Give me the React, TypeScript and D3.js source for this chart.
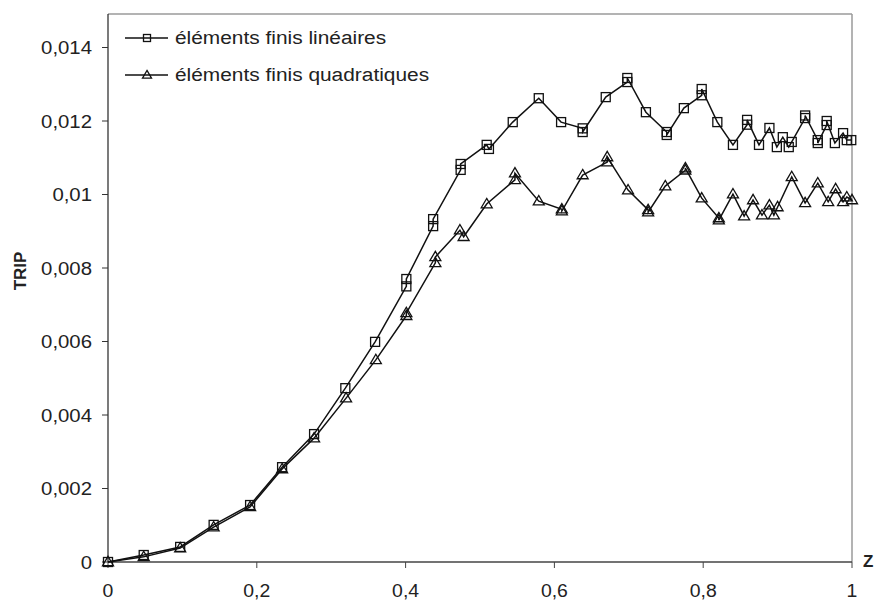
import React from "react";
import * as d3 from "d3";

const zLin = [0, 0.048, 0.097, 0.142, 0.191, 0.234, 0.277, 0.319, 0.359, 0.401, 0.401, 0.437, 0.437, 0.474, 0.474, 0.509, 0.512, 0.544, 0.579, 0.609, 0.638, 0.638, 0.669, 0.698, 0.698, 0.723, 0.751, 0.751, 0.774, 0.798, 0.798, 0.819, 0.84, 0.859, 0.859, 0.875, 0.889, 0.899, 0.907, 0.915, 0.919, 0.937, 0.937, 0.954, 0.954, 0.966, 0.966, 0.977, 0.988, 0.993, 0.999];
const tripLin = [0, 0.00019, 0.00041, 0.00101, 0.00155, 0.00258, 0.00348, 0.00473, 0.00599, 0.0075, 0.0077, 0.00914, 0.00933, 0.01067, 0.01083, 0.01135, 0.01124, 0.01197, 0.01262, 0.01197, 0.0118, 0.0117, 0.01265, 0.01306, 0.01317, 0.01224, 0.0117, 0.01162, 0.01235, 0.0127, 0.01287, 0.01197, 0.01135, 0.0119, 0.01203, 0.01135, 0.01181, 0.01129, 0.01156, 0.01129, 0.01143, 0.01208, 0.01215, 0.01148, 0.0114, 0.01189, 0.012, 0.0114, 0.01167, 0.01148, 0.01148];

const zQuad = [0, 0.048, 0.097, 0.142, 0.191, 0.234, 0.277, 0.32, 0.36, 0.401, 0.401, 0.44, 0.44, 0.473, 0.478, 0.509, 0.547, 0.547, 0.579, 0.61, 0.61, 0.638, 0.671, 0.671, 0.699, 0.726, 0.726, 0.749, 0.776, 0.776, 0.798, 0.821, 0.821, 0.84, 0.855, 0.867, 0.879, 0.889, 0.895, 0.9, 0.919, 0.937, 0.954, 0.968, 0.978, 0.988, 0.993, 1.0];
const tripQuad = [0, 0.00014, 0.00038, 0.00095, 0.0015, 0.00253, 0.00337, 0.00446, 0.0055, 0.0067, 0.00678, 0.00814, 0.0083, 0.00903, 0.00885, 0.00974, 0.0104, 0.01058, 0.00982, 0.0096, 0.00955, 0.01053, 0.01088, 0.01102, 0.01012, 0.00958, 0.00952, 0.01023, 0.01066, 0.01072, 0.0099, 0.00936, 0.0093, 0.01001, 0.00941, 0.00985, 0.00944, 0.00971, 0.00944, 0.00966, 0.01048, 0.00977, 0.01031, 0.0098, 0.01015, 0.0098, 0.00993, 0.00985];

const xTicks = [0, 0.2, 0.4, 0.6, 0.8, 1];
const xTickLabels = ["0", "0,2", "0,4", "0,6", "0,8", "1"];
const yTicks = [0, 0.002, 0.004, 0.006, 0.008, 0.01, 0.012, 0.014];
const yTickLabels = ["0", "0,002", "0,004", "0,006", "0,008", "0,01", "0,012", "0,014"];
const seriesNames = ["éléments finis linéaires", "éléments finis quadratiques"];

const W = 874, H = 601;
const L = 108, R = 852, T = 14, B = 562;
const FONT = "'Liberation Sans', Arial, sans-serif";
const SX = 1.1;

export default function App() {
  const x = d3.scaleLinear().domain([0, 1]).range([L, R]);
  const y = d3.scaleLinear().domain([0, 0.014]).range([B, 47.5]);
  const line = d3.line<[number, number]>().x(d => x(d[0])).y(d => y(d[1]));
  const lin: [number, number][] = zLin.map((z, i) => [z, tripLin[i]]);
  const quad: [number, number][] = zQuad.map((z, i) => [z, tripQuad[i]]);
  const ink = "#111";

  const square = (cx: number, cy: number, s: number, key: string) => (
    <rect key={key} x={cx - s / 2} y={cy - s / 2} width={s} height={s} fill="none" stroke={ink} strokeWidth={1.3} />
  );
  const tri = (cx: number, cy: number, s: number, key: string) => {
    const h = s * 0.85;
    return (
      <path key={key} d={`M${cx},${cy - h * 0.6}L${cx + s / 2},${cy + h * 0.4}L${cx - s / 2},${cy + h * 0.4}Z`} fill="none" stroke={ink} strokeWidth={1.3} />
    );
  };

  return (
    <div style={{ position: "absolute", left: 0, top: 0 }}>
      <svg width={W} height={H} style={{ display: "block", background: "#fff" }}>
        <line x1={L} x2={R} y1={T} y2={T} stroke="#9a9a9a" strokeWidth={1.5} />
        <line x1={R} x2={R} y1={T} y2={B} stroke="#9a9a9a" strokeWidth={1.5} />
        <line x1={L} x2={L} y1={T} y2={B} stroke="#222" strokeWidth={1.2} />
        <line x1={L} x2={R} y1={B} y2={B} stroke="#444" strokeWidth={1.5} />

        {yTicks.map((v, i) => (
          <g key={"yt" + i}>
            <line x1={L - 6} x2={L} y1={y(v)} y2={y(v)} stroke="#333" strokeWidth={1} />
            <text transform={`translate(${L - 16},${y(v) + 6.5}) scale(${SX},1)`} textAnchor="end" fontFamily={FONT} fontSize={18.5} fill="#222">{yTickLabels[i]}</text>
          </g>
        ))}
        {xTicks.map((v, i) => (
          <g key={"xt" + i}>
            <line x1={x(v)} x2={x(v)} y1={B} y2={B + 6} stroke="#444" strokeWidth={1} />
            <text transform={`translate(${x(v)},${597}) scale(1.05,1)`} textAnchor="middle" fontFamily={FONT} fontSize={18.5} fill="#222">{xTickLabels[i]}</text>
          </g>
        ))}

        <text transform={`translate(863,567)`} fontFamily={FONT} fontSize={17} fontWeight="bold" fill="#222">Z</text>
        <text transform={`translate(26,271) rotate(-90)`} textAnchor="middle" fontFamily={FONT} fontSize={17} fontWeight="bold" fill="#222">TRIP</text>

        <path d={line(lin) || ""} fill="none" stroke={ink} strokeWidth={1.5} />
        <path d={line(quad) || ""} fill="none" stroke={ink} strokeWidth={1.5} />
        {lin.map((d, i) => square(x(d[0]), y(d[1]), 9, "s" + i))}
        {quad.map((d, i) => tri(x(d[0]), y(d[1]), 11, "t" + i))}

        <line x1={125} x2={168} y1={38} y2={38} stroke={ink} strokeWidth={1.5} />
        {square(147, 38, 7, "ls")}
        <text transform={`translate(175,44) scale(1.16,1)`} fontFamily={FONT} fontSize={18} fill="#222">{seriesNames[0]}</text>
        <line x1={125} x2={168} y1={75} y2={75} stroke={ink} strokeWidth={1.5} />
        {tri(147, 75, 9, "lt")}
        <text transform={`translate(175,81) scale(1.16,1)`} fontFamily={FONT} fontSize={18} fill="#222">{seriesNames[1]}</text>
      </svg>
    </div>
  );
}
